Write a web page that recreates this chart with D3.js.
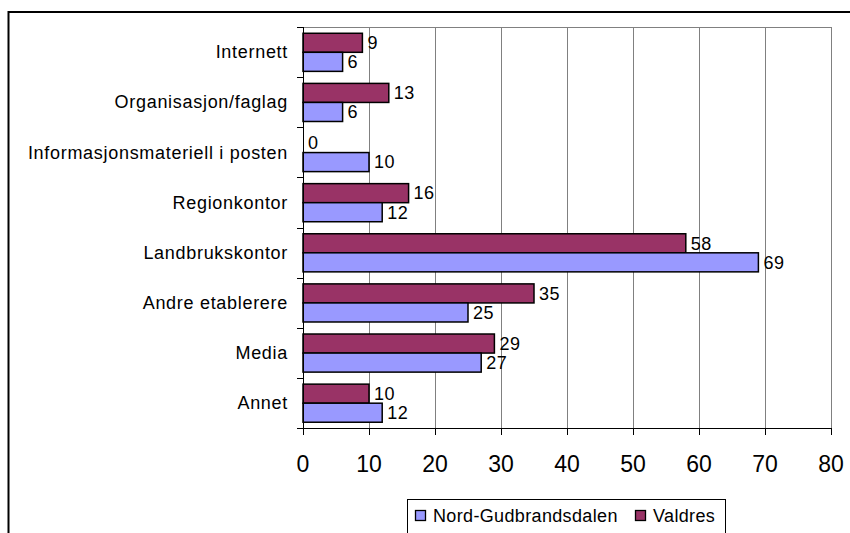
<!DOCTYPE html>
<html>
<head>
<meta charset="utf-8">
<script src="https://cdn.jsdelivr.net/npm/d3@7"></script>
<style>
  body { margin: 0; background: #fff; }
  svg { display: block; font-family: "Liberation Sans", Arial, sans-serif; }
</style>
</head>
<body>
<div class="chart"></div>
<script>
var categories = ["Internett", "Organisasjon/faglag", "Informasjonsmateriell i posten",
                  "Regionkontor", "Landbrukskontor", "Andre etablerere", "Media", "Annet"]
var valdres = [9, 13, 0, 16, 58, 35, 29, 10]
var nordGudbrandsdalen = [6, 6, 10, 12, 69, 25, 27, 12]
var xTicks = [0, 10, 20, 30, 40, 50, 60, 70, 80]
var seriesNames = ["Nord-Gudbrandsdalen", "Valdres"]
var colors = { "Nord-Gudbrandsdalen": "#9999ff", "Valdres": "#993366" }

var width = 850, height = 533
var plot = { left: 303, top: 27, right: 831, bottom: 428 }

var svg = d3.select(".chart")
            .append("svg")
              .attr("width", width)
              .attr("height", height)

// outer frame, runs off the right and bottom edge
svg.append("rect")
    .attr("x", 8.5).attr("y", 12)
    .attr("width", 900).attr("height", 600)
    .attr("fill", "none")
    .attr("stroke", "#000")
    .attr("stroke-width", 2)

var x = d3.scaleLinear().domain([0, 80]).range([plot.left, plot.right])
var y = d3.scaleBand().domain(categories).range([plot.top, plot.bottom])

// gridlines + top border
svg.selectAll(".grid")
    .data(xTicks.slice(1))
    .enter()
    .append("line")
      .attr("x1", d => Math.round(x(d)) + 0.5)
      .attr("x2", d => Math.round(x(d)) + 0.5)
      .attr("y1", plot.top)
      .attr("y2", plot.bottom)
      .attr("stroke", "#808080")
      .attr("stroke-width", 1)

svg.append("line")
    .attr("x1", plot.left).attr("x2", plot.right + 1)
    .attr("y1", plot.top + 0.5).attr("y2", plot.top + 0.5)
    .attr("stroke", "#808080")

// bars
var bh = y.bandwidth() * 0.38
var rows = categories.map(function(c, i) {
  return [
    { cat: c, name: "Valdres", value: valdres[i], off: y.bandwidth() * 0.125 },
    { cat: c, name: "Nord-Gudbrandsdalen", value: nordGudbrandsdalen[i], off: y.bandwidth() * 0.125 + bh }
  ]
})
var bars = [].concat.apply([], rows)

svg.selectAll(".bar")
    .data(bars)
    .enter()
    .append("rect")
      .attr("x", plot.left)
      .attr("y", d => y(d.cat) + d.off)
      .attr("width", d => x(d.value) - plot.left)
      .attr("height", bh)
      .attr("fill", d => colors[d.name])
      .attr("stroke", "#000")
      .attr("stroke-width", 1.5)

// value labels
svg.selectAll(".val")
    .data(bars)
    .enter()
    .append("text")
      .attr("x", d => x(d.value) + 5)
      .attr("y", d => y(d.cat) + d.off + bh / 2)
      .attr("dy", "0.35em")
      .attr("font-size", 18)
      .attr("letter-spacing", 0.5)
      .attr("fill", "#000")
      .text(d => d.value)

// axes
svg.append("line")
    .attr("x1", plot.left + 0.5).attr("x2", plot.left + 0.5)
    .attr("y1", plot.top).attr("y2", plot.bottom)
    .attr("stroke", "#000")
svg.append("line")
    .attr("x1", plot.left - 6).attr("x2", plot.right + 1)
    .attr("y1", plot.bottom + 0.5).attr("y2", plot.bottom + 0.5)
    .attr("stroke", "#000")

var bounds = categories.map(c => y(c)).concat([plot.bottom])
svg.selectAll(".ytick")
    .data(bounds)
    .enter()
    .append("line")
      .attr("x1", plot.left - 6).attr("x2", plot.left)
      .attr("y1", d => Math.round(d) + 0.5)
      .attr("y2", d => Math.round(d) + 0.5)
      .attr("stroke", "#000")

svg.selectAll(".xtick")
    .data(xTicks)
    .enter()
    .append("line")
      .attr("x1", d => Math.round(x(d)) + 0.5)
      .attr("x2", d => Math.round(x(d)) + 0.5)
      .attr("y1", plot.bottom)
      .attr("y2", plot.bottom + 7)
      .attr("stroke", "#000")

svg.selectAll(".xlabel")
    .data(xTicks)
    .enter()
    .append("text")
      .attr("x", d => x(d))
      .attr("y", 472)
      .attr("text-anchor", "middle")
      .attr("font-size", 23)
      .text(d => d)

svg.selectAll(".ylabel")
    .data(categories)
    .enter()
    .append("text")
      .attr("x", 288)
      .attr("y", d => y(d) + y.bandwidth() / 2)
      .attr("dy", "0.35em")
      .attr("text-anchor", "end")
      .attr("font-size", 18)
      .attr("letter-spacing", 0.7)
      .text(d => d)

// legend
var legend = svg.append("g")
legend.append("rect")
    .attr("x", 407.5).attr("y", 499.5)
    .attr("width", 318).attr("height", 60)
    .attr("fill", "#fff")
    .attr("stroke", "#000")

var legendX = [415, 635]
seriesNames.forEach(function(name, i) {
  legend.append("rect")
      .attr("x", legendX[i] + 0.5).attr("y", 510.5)
      .attr("width", 10).attr("height", 10)
      .attr("fill", colors[name])
      .attr("stroke", "#000")
      .attr("stroke-width", 1.3)
  legend.append("text")
      .attr("x", legendX[i] + 18)
      .attr("y", 516)
      .attr("dy", "0.35em")
      .attr("font-size", 18)
      .attr("letter-spacing", 0.35)
      .text(name)
})
</script>
</body>
</html>
